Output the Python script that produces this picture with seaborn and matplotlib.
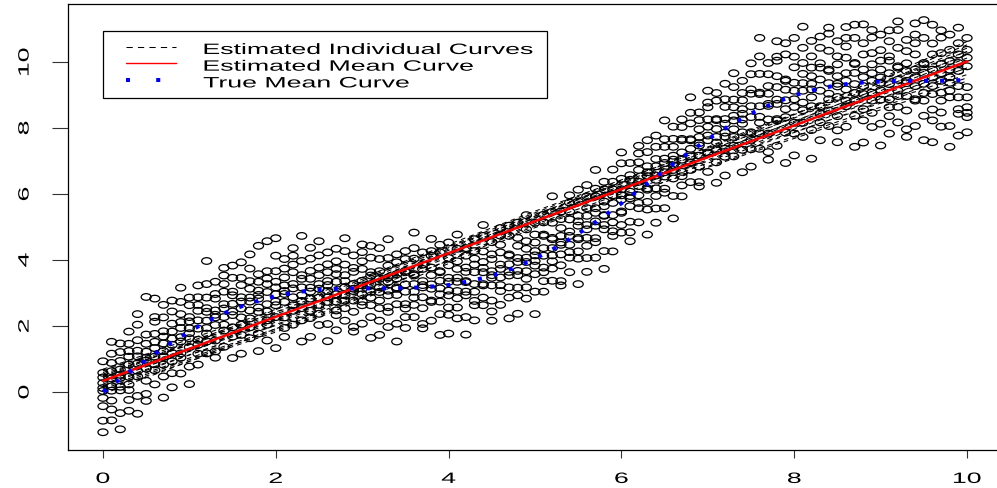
import numpy as np
import pandas as pd
import matplotlib
matplotlib.use("Agg")
import matplotlib.pyplot as plt
import seaborn as sns
from matplotlib.lines import Line2D
from matplotlib.legend_handler import HandlerLine2D
from matplotlib.path import Path
from matplotlib.patheffects import AbstractPathEffect
from matplotlib.transforms import Affine2D

# ---------------------------------------------------------------- data
# observation times (one column of measurements per time point)
obs_times = [0.0, 0.1, 0.2, 0.3, 0.4, 0.5, 0.6, 0.7, 0.8, 0.9,
             1.0, 1.1, 1.2, 1.3, 1.4, 1.5, 1.6, 1.7, 1.8, 1.9,
             2.0, 2.1, 2.2, 2.3, 2.4, 2.5, 2.6, 2.7, 2.8, 2.9,
             3.0, 3.1, 3.2, 3.3, 3.4, 3.5, 3.6, 3.7, 3.8, 3.9,
             4.0, 4.1, 4.2, 4.3, 4.4, 4.5, 4.6, 4.7, 4.8, 4.9,
             5.0, 5.1, 5.2, 5.3, 5.4, 5.5, 5.6, 5.7, 5.8, 5.9,
             6.0, 6.1, 6.2, 6.3, 6.4, 6.5, 6.6, 6.7, 6.8, 6.9,
             7.0, 7.1, 7.2, 7.3, 7.4, 7.5, 7.6, 7.7, 7.8, 7.9,
             8.0, 8.1, 8.2, 8.3, 8.4, 8.5, 8.6, 8.7, 8.8, 8.9,
             9.0, 9.1, 9.2, 9.3, 9.4, 9.5, 9.6, 9.7, 9.8, 9.9, 10.0]

# observed responses at each time point
obs_values = [
    [-1.22, -0.87, -0.43, -0.18, 0.03, 0.12, 0.27, 0.44, 0.58, 0.93],
    [-0.86, -0.53, -0.26, 0.04, 0.17, 0.41, 0.63, 0.88, 1.16, 1.52],
    [-1.13, -0.64, 0.05, 0.16, 0.43, 0.52, 0.68, 0.94, 1.21, 1.47],
    [-0.57, -0.24, 0.06, 0.23, 0.46, 0.83, 1.07, 1.24, 1.46, 1.83],
    [-0.66, -0.12, 0.47, 0.64, 0.86, 1.08, 1.25, 1.57, 2.04, 2.36],
    [-0.27, -0.06, 0.34, 0.71, 0.95, 1.04, 1.22, 1.46, 1.74, 2.88],
    [0.23, 0.66, 0.84, 1.07, 1.33, 1.52, 1.76, 2.13, 2.27, 2.83],
    [-0.17, 0.47, 0.83, 1.06, 1.24, 1.47, 1.68, 1.84, 2.26, 2.64],
    [0.14, 0.57, 0.93, 1.18, 1.43, 1.62, 1.83, 2.07, 2.44, 2.77],
    [0.56, 1.04, 1.17, 1.53, 1.66, 1.94, 2.12, 2.36, 2.73, 3.16],
    [0.24, 0.77, 1.36, 1.63, 1.78, 1.93, 2.14, 2.27, 2.63, 2.86],
    [0.83, 1.16, 1.43, 1.58, 1.92, 2.17, 2.46, 2.64, 2.87, 3.23],
    [1.17, 1.53, 1.77, 1.94, 2.16, 2.43, 2.54, 2.86, 3.27, 3.97],
    [1.04, 1.23, 1.56, 2.03, 2.26, 2.34, 2.47, 2.83, 2.97, 3.34],
    [1.37, 1.86, 2.04, 2.27, 2.53, 2.66, 3.04, 3.27, 3.53, 3.76],
    [1.03, 1.68, 1.96, 2.33, 2.44, 2.67, 2.93, 3.04, 3.46, 3.83],
    [1.16, 1.73, 2.04, 2.26, 2.53, 2.74, 2.87, 3.24, 3.46, 3.93],
    [1.63, 1.96, 2.23, 2.47, 2.74, 2.86, 3.13, 3.36, 3.74, 4.17],
    [1.24, 1.77, 2.43, 2.56, 2.83, 2.94, 3.07, 3.34, 3.57, 4.43],
    [1.56, 2.04, 2.17, 2.44, 2.66, 3.03, 3.27, 3.44, 3.66, 4.57],
    [1.33, 2.27, 2.63, 2.74, 2.96, 3.17, 3.34, 3.66, 4.13, 4.66],
    [1.67, 1.94, 2.26, 2.73, 2.97, 3.06, 3.23, 3.47, 3.74, 4.03],
    [2.04, 2.46, 2.63, 2.87, 3.14, 3.27, 3.63, 3.86, 4.13, 4.36],
    [1.53, 2.17, 2.54, 2.76, 2.93, 3.17, 3.43, 3.54, 3.97, 4.73],
    [1.67, 2.24, 2.46, 2.83, 3.04, 3.16, 3.43, 3.67, 4.04, 4.37],
    [2.03, 2.37, 2.64, 2.86, 3.13, 3.27, 3.54, 3.77, 4.14, 4.57],
    [1.54, 2.06, 2.73, 2.87, 3.06, 3.24, 3.36, 3.63, 3.87, 4.23],
    [1.87, 2.33, 2.47, 2.74, 2.96, 3.34, 3.57, 3.73, 3.96, 4.34],
    [2.16, 2.54, 2.77, 2.93, 3.17, 3.36, 3.54, 3.86, 4.27, 4.66],
    [1.83, 1.97, 2.43, 2.77, 3.06, 3.13, 3.27, 3.64, 3.76, 4.14],
    [2.07, 2.63, 2.74, 2.96, 3.23, 3.37, 3.73, 3.96, 4.24, 4.47],
    [1.64, 2.27, 2.63, 2.86, 3.04, 3.27, 3.53, 3.63, 4.07, 4.43],
    [1.73, 2.16, 2.54, 2.77, 3.03, 3.17, 3.43, 3.66, 4.03, 4.36],
    [1.97, 2.43, 2.57, 2.93, 3.07, 3.34, 3.47, 3.83, 4.06, 4.63],
    [1.53, 2.07, 2.66, 2.94, 3.13, 3.17, 3.44, 3.57, 3.93, 4.17],
    [1.94, 2.27, 2.53, 2.66, 3.04, 3.26, 3.63, 3.67, 4.03, 4.27],
    [2.27, 2.64, 2.86, 3.04, 3.27, 3.53, 3.57, 4.04, 4.36, 4.83],
    [1.93, 2.06, 2.54, 2.87, 3.17, 3.24, 3.36, 3.73, 3.86, 4.23],
    [2.16, 2.73, 2.77, 3.13, 3.26, 3.54, 3.77, 4.13, 4.27, 4.64],
    [1.73, 2.36, 2.74, 2.96, 3.14, 3.37, 3.63, 3.66, 4.23, 4.46],
    [1.77, 2.34, 2.56, 2.93, 3.07, 3.34, 3.46, 3.84, 4.06, 4.53],
    [2.23, 2.56, 2.84, 3.06, 3.34, 3.46, 3.73, 3.96, 4.34, 4.77],
    [1.74, 2.27, 2.93, 3.04, 3.33, 3.36, 3.64, 3.77, 4.13, 4.36],
    [2.17, 2.63, 2.76, 3.04, 3.27, 3.63, 3.86, 4.04, 4.27, 4.63],
    [2.63, 2.86, 3.23, 3.27, 3.63, 3.76, 3.94, 4.26, 4.73, 5.06],
    [2.16, 2.44, 2.77, 3.23, 3.46, 3.54, 3.66, 4.03, 4.17, 4.54],
    [2.64, 3.06, 3.24, 3.47, 3.73, 3.86, 4.23, 4.46, 4.74, 4.97],
    [2.23, 2.86, 3.17, 3.53, 3.64, 3.87, 4.13, 4.17, 4.73, 5.04],
    [2.37, 2.93, 3.16, 3.54, 3.67, 3.94, 4.06, 4.43, 4.67, 5.13],
    [2.83, 3.17, 3.43, 3.66, 3.94, 4.07, 4.34, 4.57, 4.93, 5.36],
    [2.36, 3.04, 3.57, 3.83, 3.97, 4.14, 4.27, 4.53, 4.77, 5.13],
    [3.04, 3.36, 3.63, 3.77, 4.13, 4.36, 4.73, 4.77, 5.14, 5.37],
    [3.37, 3.74, 3.96, 4.14, 4.36, 4.63, 4.67, 5.13, 5.46, 5.93],
    [3.23, 3.36, 3.84, 4.17, 4.53, 4.46, 4.73, 4.97, 5.24, 5.47],
    [3.63, 4.07, 4.24, 4.46, 4.73, 4.86, 5.23, 5.47, 5.74, 5.96],
    [3.27, 4.04, 4.26, 4.63, 4.67, 5.04, 5.17, 5.34, 5.77, 6.13],
    [3.64, 4.06, 4.43, 4.67, 4.93, 5.06, 5.34, 5.57, 5.93, 6.27],
    [4.07, 4.54, 4.66, 5.04, 5.17, 5.43, 5.57, 5.93, 6.16, 6.73],
    [3.73, 4.27, 4.93, 5.06, 5.34, 5.36, 5.63, 5.77, 6.14, 6.37],
    [4.26, 4.73, 4.87, 5.14, 5.36, 5.73, 5.96, 6.14, 6.37, 6.74],
    [4.83, 5.06, 5.43, 5.47, 5.83, 5.96, 6.14, 6.46, 6.93, 7.26],
    [4.57, 4.84, 5.16, 5.63, 5.87, 5.94, 6.07, 6.43, 6.57, 6.94],
    [5.14, 5.57, 5.73, 5.96, 6.24, 6.37, 6.73, 6.96, 7.23, 7.46],
    [4.77, 5.53, 5.76, 6.13, 6.17, 6.54, 6.66, 6.84, 7.27, 7.63],
    [5.13, 5.56, 5.94, 6.17, 6.43, 6.56, 6.84, 7.06, 7.43, 7.77],
    [5.57, 6.04, 6.16, 6.53, 6.66, 6.94, 7.07, 7.43, 7.66, 8.23],
    [5.26, 5.94, 6.47, 6.73, 6.87, 7.04, 7.16, 7.43, 7.67, 8.04],
    [5.93, 6.26, 6.54, 6.67, 7.04, 7.26, 7.63, 7.67, 8.03, 8.26],
    [6.36, 6.73, 6.96, 7.14, 7.37, 7.63, 7.66, 8.14, 8.46, 8.93],
    [6.23, 6.36, 6.83, 7.16, 7.54, 7.47, 7.73, 7.96, 8.24, 8.47],
    [6.67, 7.23, 7.26, 7.63, 7.77, 8.04, 8.26, 8.63, 8.77, 9.13],
    [6.34, 6.96, 7.33, 7.56, 7.73, 7.97, 8.24, 8.27, 8.83, 9.06],
    [6.56, 7.13, 7.37, 7.74, 7.86, 8.13, 8.27, 8.64, 8.87, 9.34],
    [7.14, 7.46, 7.73, 7.96, 8.23, 8.37, 8.63, 8.86, 9.24, 9.66],
    [6.66, 7.34, 7.87, 8.13, 8.26, 8.43, 8.57, 8.84, 9.06, 9.43],
    [6.83, 7.36, 7.64, 7.87, 8.33, 8.66, 9.04, 9.17, 9.63, 9.96],
    [7.37, 7.84, 8.16, 8.34, 8.66, 9.03, 9.07, 9.64, 10.17, 10.73],
    [7.04, 7.27, 7.83, 8.26, 8.73, 8.67, 9.04, 9.27, 9.63, 9.97],
    [7.46, 8.23, 8.27, 8.73, 8.86, 9.24, 9.57, 10.04, 10.16, 10.63],
    [6.94, 7.86, 8.33, 8.57, 8.84, 9.16, 9.43, 9.47, 10.23, 10.57],
    [7.17, 7.83, 8.16, 8.64, 8.87, 9.13, 9.37, 9.84, 10.16, 10.73],
    [7.73, 8.16, 8.54, 8.77, 9.13, 9.36, 9.64, 9.97, 10.43, 11.07],
    [7.07, 7.94, 8.66, 8.93, 9.17, 9.34, 9.57, 9.83, 10.17, 10.64],
    [7.63, 8.17, 8.44, 8.66, 9.13, 9.47, 9.83, 9.96, 10.43, 10.77],
    [8.06, 8.53, 8.87, 9.04, 9.36, 9.73, 9.77, 10.34, 10.86, 11.04],
    [7.57, 7.93, 8.36, 8.94, 9.26, 9.34, 9.57, 9.93, 10.17, 10.63],
    [8.04, 8.66, 8.83, 9.17, 9.43, 9.66, 10.13, 10.47, 10.73, 11.06],
    [7.43, 8.37, 8.84, 9.06, 9.33, 9.67, 9.94, 9.97, 10.73, 11.13],
    [7.56, 8.23, 8.57, 9.03, 9.27, 9.54, 9.77, 10.23, 10.57, 11.14],
    [8.03, 8.46, 8.83, 9.07, 9.43, 9.66, 9.93, 10.27, 10.74, 10.97],
    [7.47, 8.13, 8.86, 9.14, 9.37, 9.53, 9.77, 10.04, 10.36, 10.83],
    [7.83, 8.36, 8.63, 8.87, 9.33, 9.66, 10.04, 10.17, 10.63, 10.96],
    [8.17, 8.64, 8.97, 9.13, 9.46, 9.83, 9.87, 10.43, 10.97, 11.23],
    [7.73, 7.96, 8.53, 8.97, 9.43, 9.36, 9.73, 9.96, 10.33, 10.67],
    [8.06, 8.83, 8.87, 9.27, 9.54, 9.77, 10.23, 10.57, 10.83, 11.17],
    [7.63, 8.37, 8.83, 9.06, 9.34, 9.67, 9.93, 9.97, 10.73, 11.27],
    [7.57, 8.23, 8.56, 9.03, 9.27, 9.53, 9.77, 10.23, 10.56, 11.13],
    [8.04, 8.47, 8.83, 9.07, 9.43, 9.66, 9.94, 10.27, 10.74, 10.96],
    [7.43, 8.06, 8.93, 9.13, 9.37, 9.54, 9.77, 10.03, 10.37, 10.83],
    [7.77, 8.43, 8.57, 8.93, 9.27, 9.73, 9.97, 10.23, 10.57, 11.04],
    [7.87, 8.33, 8.46, 8.63, 8.93, 9.24, 9.87, 10.13, 10.37, 10.73],
]

# estimated individual curves, evaluated at a few knots
curve_knots = [0.0, 2.5, 5.0, 7.5, 10.0]
individual_fits = [
    [0.04, 2.26, 4.98, 7.30, 9.52],
    [0.14, 2.36, 5.08, 7.40, 9.72],
    [0.24, 2.46, 5.18, 7.50, 9.82],
    [0.34, 2.56, 5.28, 7.60, 9.92],
    [0.44, 2.66, 5.28, 7.70, 10.02],
    [0.54, 2.76, 5.38, 7.70, 10.22],
    [0.64, 2.86, 5.38, 7.80, 10.32],
    [-0.06, 2.41, 5.03, 7.25, 9.42],
    [0.49, 2.91, 5.43, 7.90, 10.52],
    [0.19, 2.51, 5.23, 7.65, 10.12],
    [0.39, 2.61, 5.33, 7.80, 10.42],
    [0.59, 2.81, 5.28, 7.55, 9.82],
    [0.09, 2.31, 5.13, 7.70, 10.22],
    [0.69, 2.96, 5.48, 7.85, 10.62],
    [0.29, 2.66, 5.18, 7.45, 9.62],
    [0.44, 3.01, 5.33, 7.95, 10.32],
]

# estimated mean curve
mean_t = [0, 1, 2, 3, 4, 5, 6, 7, 8, 9, 10]
mean_fit = [0.34, 1.31, 2.28, 3.24, 4.21, 5.18, 6.15, 7.12, 8.08, 9.05, 10.02]

# true mean curve
true_t = [0.0, 0.25, 0.5, 0.75, 1.0, 1.25, 1.5, 1.75, 2.0, 2.25,
          2.5, 2.75, 3.0, 3.25, 3.5, 3.75, 4.0, 4.25, 4.5, 4.75,
          5.0, 5.25, 5.5, 5.75, 6.0, 6.25, 6.5, 6.75, 7.0, 7.25,
          7.5, 7.75, 8.0, 8.25, 8.5, 8.75, 9.0, 9.25, 9.5, 9.75, 10.0]
true_mu = [0.00, 0.50, 0.98, 1.43, 1.84, 2.20, 2.50, 2.73, 2.91, 3.03,
           3.10, 3.13, 3.14, 3.14, 3.15, 3.18, 3.24, 3.36, 3.52, 3.75,
           4.04, 4.39, 4.80, 5.24, 5.72, 6.22, 6.72, 7.20, 7.66, 8.07,
           8.44, 8.74, 8.99, 9.17, 9.30, 9.37, 9.41, 9.43, 9.43, 9.43, 9.46]

legend_labels = ["Estimated Individual Curves", "Estimated Mean Curve",
                 "True Mean Curve"]
x_ticks = [0, 2, 4, 6, 8, 10]
y_ticks = [0, 2, 4, 6, 8, 10]


# ---------------------------------------------------------------- helpers
class WideGlyphs(AbstractPathEffect):
    """Draw text with glyphs stretched along the baseline."""

    def __init__(self, factor, anchor="center", offset=(0.0, 0.0)):
        super().__init__(offset=offset)
        self.factor = factor
        self.anchor = anchor

    def draw_path(self, renderer, gc, tpath, affine, rgbFace=None):
        ext = tpath.get_extents()
        cx = 0.5 * (ext.x0 + ext.x1) if self.anchor == "center" else ext.x0
        widen = Affine2D().translate(-cx, 0).scale(self.factor, 1.0).translate(cx, 0)
        renderer.draw_path(gc, tpath,
                           widen + affine + self._offset_transform(renderer),
                           rgbFace)


# open elliptical plotting symbol
ellipse = Path.unit_circle().transformed(Affine2D().scale(1.0, 0.66))

# ---------------------------------------------------------------- figure
sns.set_theme(style="white")
plt.rcParams["font.family"] = ["Liberation Sans", "DejaVu Sans"]

W, H = 997, 489
fig = plt.figure(figsize=(W / 100, H / 100), dpi=100)
ax_left, ax_right, ax_top, ax_bottom = 68.4, 1001.6, 5.0, 451.0
ax = fig.add_axes([ax_left / W, 1 - ax_bottom / H,
                   (ax_right - ax_left) / W, (ax_bottom - ax_top) / H])

obs_df = pd.DataFrame({
    "time": [t for t, col in zip(obs_times, obs_values) for _ in col],
    "y": [v for col in obs_values for v in col],
})
sns.scatterplot(data=obs_df, x="time", y="y", marker=ellipse, s=52,
                facecolors="none", edgecolor="black", linewidth=0.9,
                ax=ax, legend=False, zorder=2)
pts = ax.collections[-1]
pts.set_facecolor("none")
pts.set_edgecolor("black")

fits_df = pd.DataFrame({
    "time": [t for _ in individual_fits for t in curve_knots],
    "fit": [v for row in individual_fits for v in row],
    "subject": [i for i, row in enumerate(individual_fits) for _ in row],
})
n_before = len(ax.lines)
sns.lineplot(data=fits_df, x="time", y="fit", units="subject", estimator=None,
             color="black", linewidth=0.75, ax=ax, legend=False, zorder=3)
for ln in ax.lines[n_before:]:
    ln.set_linestyle((0, (4.5, 4.0)))

sns.lineplot(x=mean_t, y=mean_fit, color="red", linewidth=1.8, ax=ax, zorder=4)
sns.lineplot(x=true_t, y=true_mu, color="blue", linewidth=2.9, ax=ax, zorder=5)
blue = ax.lines[-1]
blue.set_linestyle((0, (1, 3)))
blue.set_dash_capstyle("butt")

ax.set_xlim(-0.4, 10.4)
ax.set_ylim(-1.758, 11.758)
ax.set_xticks(x_ticks)
ax.set_yticks(y_ticks)
ax.set_xticklabels([str(v) for v in x_ticks])
ax.set_yticklabels([str(v) for v in y_ticks])
ax.set_xlabel("")
ax.set_ylabel("")

for side in ["left", "right", "top", "bottom"]:
    ax.spines[side].set_visible(True)
    ax.spines[side].set_color("black")
    ax.spines[side].set_linewidth(0.9)

ax.tick_params(axis="x", bottom=True, direction="out", length=5.8, width=0.8,
               color="#333333", pad=10, labelsize=10.8, labelcolor="black")
ax.tick_params(axis="y", left=True, direction="out", length=11.5, width=0.8,
               color="#333333", pad=15, labelsize=10.8, labelcolor="black")
for lab in ax.get_xticklabels():
    lab.set_path_effects([WideGlyphs(1.78, "center")])
for lab in ax.get_yticklabels():
    lab.set_rotation(90)
    lab.set_va("center")
    lab.set_path_effects([WideGlyphs(1.78, "center")])

# legend
ax_w = ax_right - ax_left
ax_h = ax_bottom - ax_top
leg_x0, leg_x1, leg_top, leg_bot = 103.0, 547.0, 32.0, 101.0
handles = [
    Line2D([], [], color="black", linewidth=0.75, linestyle=(0, (6.0, 5.0))),
    Line2D([], [], color="red", linewidth=1.0),
    Line2D([], [], color="blue", linewidth=2.9, linestyle=(0, (1, 6.5)),
           dash_capstyle="butt"),
]
leg = ax.legend(handles, legend_labels,
                loc="upper left",
                bbox_to_anchor=((leg_x0 - ax_left) / ax_w,
                                (ax_bottom - leg_bot) / ax_h,
                                (leg_x1 - leg_x0) / ax_w,
                                (leg_bot - leg_top) / ax_h),
                mode="expand", borderaxespad=0.0, fontsize=10.8,
                handlelength=4.23, handletextpad=1.8, labelspacing=0.18,
                borderpad=0.66, fancybox=False, framealpha=1.0,
                edgecolor="black",
                handler_map={Line2D: HandlerLine2D(xpad=0.9)})
leg.get_frame().set_linewidth(0.9)
for txt in leg.get_texts():
    txt.set_color("black")
    txt.set_path_effects([WideGlyphs(1.78, "left", offset=(0.0, -1.5))])

fig.savefig("out.png", dpi=100, facecolor="white")
